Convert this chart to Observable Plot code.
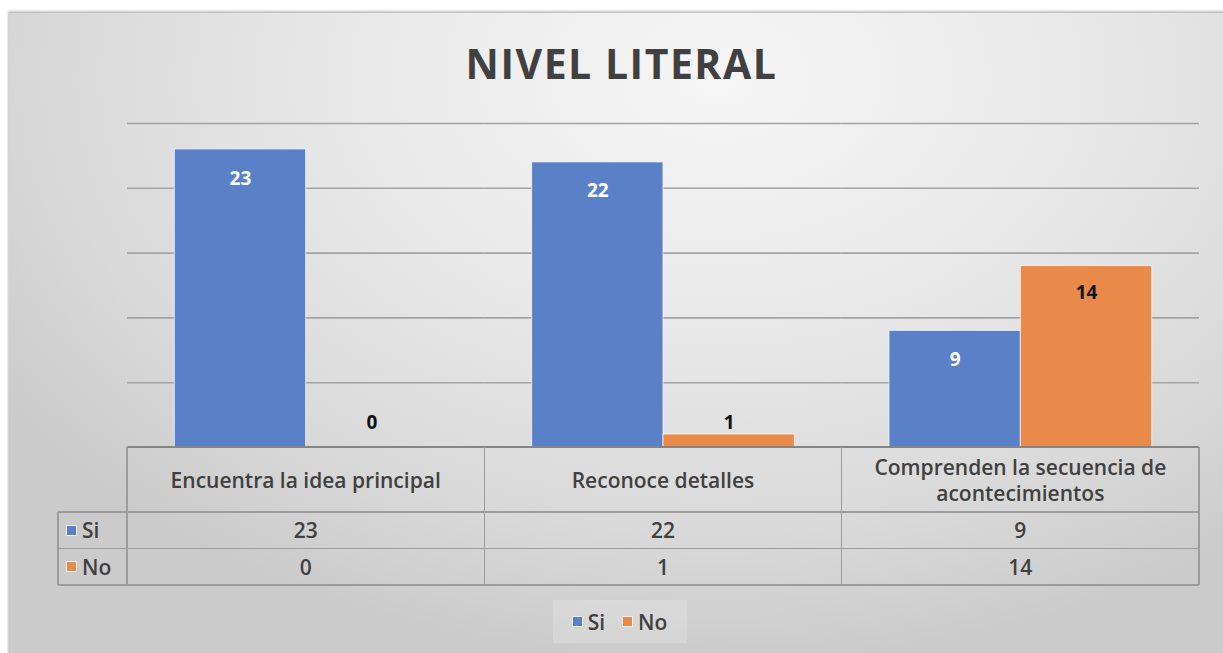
<!DOCTYPE html>
<html>
<head>
<meta charset="utf-8">
<script src="https://cdn.jsdelivr.net/npm/d3@7"></script>
<script src="https://cdn.jsdelivr.net/npm/@observablehq/plot@0.6"></script>
<style>
  body { margin: 0; background: #ffffff; font-family: "Open Sans", sans-serif; }
  #wrap { position: relative; width: 1223px; height: 653px; overflow: hidden; background: #ffffff; }
  #panel { position: absolute; left: 9px; top: 13px; width: 1220px; height: 650px;
    background: radial-gradient(ellipse 70% 90% at 58% 10%, #f6f6f6 0%, #eaeaea 40%, #d9d9d9 78%, #cbcbcb 100%);
    box-shadow: -1px -2px 2px rgba(0,0,0,0.25); }
  #title { position: absolute; left: 0; top: 37px; width: 1243px; text-align: center;
    font-weight: 700; font-size: 41px; color: #404040; letter-spacing: 1.5px; line-height: 52px; }
  #chart { position: absolute; left: 0; top: 0; }
  .cell { position: absolute; display: flex; align-items: center; justify-content: center; text-align: center;
    font-weight: 600; font-size: 21px; color: #404040; line-height: 26px; box-sizing: border-box; padding: 0 6px; }
  .hline, .vline { position: absolute; background: #9c9c9c; }
  .sw { display: inline-block; width: 9px; height: 9px; margin-right: 6px; outline: 1px solid rgba(255,255,255,0.7); }
  #legend { position: absolute; left: 553px; top: 600px; width: 134px; height: 43px; background: rgba(255,255,255,0.18);
    display: flex; align-items: center; justify-content: center; gap: 18px; font-weight: 600; font-size: 21px; color: #404040; }
  #legend span.item { display: inline-flex; align-items: center; }
</style>
</head>
<body>
<div id="wrap">
  <div id="panel"></div>
  <div id="title">NIVEL LITERAL</div>
  <div id="chart"></div>
  <div id="table"></div>
  <div id="legend"></div>
</div>
<script>
// ---- data ----
const categories = ["Encuentra la idea principal", "Reconoce detalles", "Comprenden la secuencia de acontecimientos"];
const seriesNames = ["Si", "No"];
const siValues = [23, 22, 9];
const noValues = [0, 1, 14];
const gridTicks = [5, 10, 15, 20, 25];
const seriesColors = ["#5a81c8", "#ea8a4a"];

// ---- build table of rows ----
const valuesBySeries = [siValues, noValues];
const rows = categories.flatMap((c, i) => seriesNames.map((s, j) => ({ category: c, series: s, value: valuesBySeries[j][i] })));

const plot = Plot.plot({
  width: 1223,
  height: 460,
  marginLeft: 127,
  marginRight: 24,
  marginTop: 123,
  marginBottom: 13,
  style: { background: "transparent", overflow: "visible", fontFamily: "Open Sans, sans-serif" },
  fx: { domain: categories, padding: 0, axis: null, round: false },
  x: { domain: seriesNames, paddingInner: 0, paddingOuter: 0.36, axis: null, round: false },
  y: { domain: [0, 25], axis: null },
  color: { domain: seriesNames, range: seriesColors },
  marks: [
    Plot.ruleY(gridTicks, { stroke: "#a3a3a3", strokeWidth: 1.6 }),
    Plot.barY(rows, { fx: "category", x: "series", y: "value", fill: "series", stroke: "#f6f6f6", strokeWidth: 1, strokeOpacity: 0.8 }),
    // labels inside end (large bars)
    Plot.text(rows.filter(d => d.value >= 3 && d.series === "Si"), { fx: "category", x: "series", y: "value", text: d => String(d.value), dy: 29, fill: "#ffffff", fontWeight: 700, fontSize: 19 }),
    Plot.text(rows.filter(d => d.value >= 3 && d.series === "No"), { fx: "category", x: "series", y: "value", text: d => String(d.value), dy: 27, fill: "#111111", fontWeight: 700, fontSize: 19 }),
    // labels above small bars
    Plot.text(rows.filter(d => d.value < 3), { fx: "category", x: "series", y: d => Math.max(d.value, 1), text: d => String(d.value), dy: -12, fill: "#111111", fontWeight: 700, fontSize: 19 })
  ]
});
document.getElementById("chart").appendChild(plot);

// ---- data table aligned to the plot's fx scale ----
const fx = plot.scale("fx");
const ys = plot.scale("y");
const colStart = categories.map(c => fx.apply(c));
const bw = fx.bandwidth;
const left = colStart[0];
const right = colStart[colStart.length - 1] + bw;
const legendColLeft = 58;
const top0 = ys.apply(0);
const headerH = 65;
const rowH = 36.5;
const rowTops = [top0 + headerH, top0 + headerH + rowH];
const bottom = top0 + headerH + 2 * rowH;

const tbl = d3.select("#table");
function hline(x1, x2, y, w, col) {
  tbl.append("div").attr("class", "hline").style("left", x1 + "px").style("top", (y - w / 2) + "px")
    .style("width", (x2 - x1) + "px").style("height", w + "px").style("background", col || "#9c9c9c");
}
function vline(x, y1, y2, w) {
  tbl.append("div").attr("class", "vline").style("left", (x - w / 2) + "px").style("top", y1 + "px")
    .style("width", w + "px").style("height", (y2 - y1) + "px");
}
hline(left, right, top0, 2, "#858585");
rowTops.forEach(y => hline(legendColLeft, right, y, 1.6));
hline(legendColLeft, right, bottom, 1.6);
colStart.forEach(x => vline(x, top0, bottom, 1.6));
vline(right, top0, bottom, 1.6);
vline(legendColLeft, rowTops[0], bottom, 1.6);

categories.forEach((c, i) => {
  tbl.append("div").attr("class", "cell")
    .style("left", colStart[i] + "px").style("top", top0 + "px")
    .style("width", bw + "px").style("height", headerH + "px")
    .style("padding", "0 14px")
    .text(c);
});
seriesNames.forEach((s, j) => {
  const lc = tbl.append("div").attr("class", "cell")
    .style("left", legendColLeft + "px").style("top", rowTops[j] + "px")
    .style("width", (left - legendColLeft) + "px").style("height", rowH + "px")
    .style("justify-content", "flex-start").style("padding-left", "9px");
  lc.append("span").attr("class", "sw").style("background", seriesColors[j]);
  lc.append("span").text(s);
  categories.forEach((c, i) => {
    tbl.append("div").attr("class", "cell")
      .style("left", colStart[i] + "px").style("top", rowTops[j] + "px")
      .style("width", bw + "px").style("height", rowH + "px")
      .text(String(valuesBySeries[j][i]));
  });
});

// ---- bottom legend ----
const lg = d3.select("#legend");
seriesNames.forEach((s, j) => {
  const it = lg.append("span").attr("class", "item");
  it.append("span").attr("class", "sw").style("background", seriesColors[j]);
  it.append("span").text(s);
});
</script>
</body>
</html>
